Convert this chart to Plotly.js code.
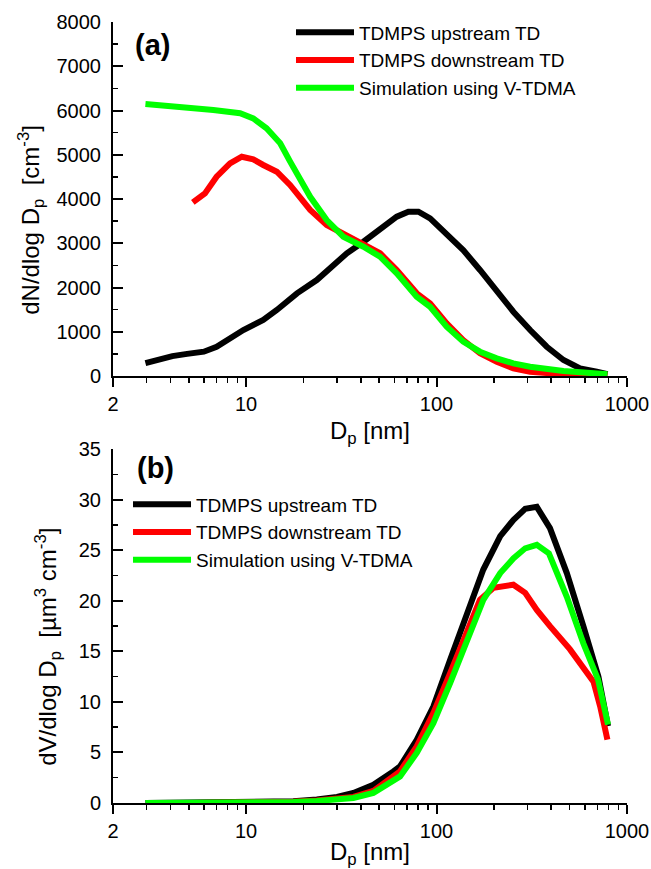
<!DOCTYPE html>
<html>
<head>
<meta charset="utf-8">
<script src="https://cdn.plot.ly/plotly-3.0.1.min.js"></script>
<style>html,body{margin:0;padding:0;background:#fff;}#chart{width:651px;height:869px;}</style>
</head>
<body>
<div id="chart"></div>
<script>
// ---- Data ----
const seriesNames = ["TDMPS upstream TD", "TDMPS downstream TD", "Simulation using V-TDMA"];
const seriesColors = ["#000000", "#ff0000", "#00ff00"];

// Panel (a): number size distribution dN/dlogDp [cm^-3]
const dpUpN = [2.96, 4.1, 4.9, 6.0, 7.0, 8.23, 9.67, 12.3, 14.5, 18.5, 23.5, 27.6, 33.8, 41.3, 50.5, 61.8, 71.1, 80.3, 92.5, 113, 138, 169, 207, 253, 310, 379, 464, 567, 694, 790];
const nUp   = [290, 450, 500, 550, 660, 852, 1040, 1266, 1492, 1869, 2170, 2434, 2773, 3035, 3300, 3600, 3713, 3713, 3564, 3225, 2848, 2396, 1905, 1453, 1040, 662, 362, 174, 97, 40];

const dpDownN = [5.25, 6.08, 7.0, 8.23, 9.49, 10.9, 12.3, 14.5, 17.0, 21.7, 26.5, 32.4, 41.3, 50.5, 61.8, 78.7, 92.5, 113, 138, 169, 207, 253, 310, 464, 790];
const nDown   = [3925, 4128, 4505, 4807, 4956, 4897, 4769, 4617, 4317, 3752, 3413, 3225, 2999, 2773, 2396, 1869, 1643, 1191, 814, 513, 323, 174, 97, 38, 15];

const dpSimN = [2.96, 4.87, 6.73, 9.3, 10.9, 12.8, 15.1, 17.0, 21.7, 26.5, 32.4, 41.3, 50.5, 61.8, 78.7, 92.5, 113, 138, 169, 207, 253, 310, 464, 790];
const nSim   = [6147, 6072, 6011, 5937, 5823, 5597, 5259, 4850, 4050, 3526, 3148, 2922, 2696, 2321, 1792, 1566, 1114, 776, 550, 400, 287, 210, 113, 40];

// Panel (b): volume size distribution dV/dlogDp [um^3 cm^-3]
const dpUpV = [2.96, 5, 8.5, 12.3, 17.7, 23.5, 30, 36.6, 46.6, 59.3, 64.3, 78.7, 96.2, 118, 144, 176, 216, 253, 292, 336, 394, 483, 590, 708, 795];
const vUp   = [0.0, 0.01, 0.03, 0.08, 0.18, 0.35, 0.6, 0.99, 1.8, 3.13, 3.62, 6.26, 9.55, 14.2, 18.5, 23.1, 26.4, 28.0, 29.1, 29.3, 27.2, 22.75, 17.5, 12.5, 7.6];

const dpDownV = [5.25, 8.5, 12.3, 17.7, 23.5, 30, 36.6, 46.6, 64.3, 78.7, 96.2, 118, 144, 169, 199, 253, 292, 336, 394, 502, 667, 723, 789];
const vDown   = [0.01, 0.02, 0.05, 0.12, 0.25, 0.4, 0.6, 1.2, 3.13, 5.6, 8.9, 12.86, 16.8, 20.1, 21.3, 21.6, 20.8, 19.1, 17.5, 15.2, 12.0, 9.55, 6.26];

const dpSimV = [2.96, 5, 8.5, 12.3, 17.7, 23.5, 30, 36.6, 46.6, 64.3, 78.7, 96.2, 118, 144, 176, 216, 253, 292, 336, 389, 483, 590, 705, 795];
const vSim   = [0.0, 0.01, 0.02, 0.05, 0.1, 0.2, 0.35, 0.5, 1.0, 2.63, 4.95, 7.9, 11.9, 15.8, 20.1, 22.75, 24.2, 25.2, 25.55, 24.7, 20.4, 15.8, 12.2, 7.75];

const xTickVals = [2, 10, 100, 1000];
const xTickText = ["2", "10", "100", "1000"];
const xMinorVals = [3,4,5,6,7,8,9,20,30,40,50,60,70,80,90,200,300,400,500,600,700,800,900];
const yTitleA = "dN/dlog D<sub>p</sub>  [cm<sup>-3</sup>]";
const yTitleB = "dV/dlog D<sub>p</sub>  [µm<sup>3</sup> cm<sup>-3</sup>]";
const xTitle = "D<sub>p</sub> [nm]";

// ---- Traces ----
const FONT = "Arial, 'Liberation Sans', sans-serif";
function tr(x, y, i, xa, ya, lg) {
  return {x: x, y: y, type: "scatter", mode: "lines", name: seriesNames[i],
    xaxis: xa, yaxis: ya, legend: lg,
    line: {color: seriesColors[i], width: 6}};
}
const data = [
  tr(dpUpN, nUp, 0, "x", "y", "legend"),
  tr(dpDownN, nDown, 1, "x", "y", "legend"),
  tr(dpSimN, nSim, 2, "x", "y", "legend"),
  tr(dpUpV, vUp, 0, "x2", "y2", "legend2"),
  tr(dpDownV, vDown, 1, "x2", "y2", "legend2"),
  tr(dpSimV, vSim, 2, "x2", "y2", "legend2")
];

const xBase = {
  type: "log", range: [Math.log10(2), 3], showline: true, linewidth: 2, linecolor: "#000",
  showgrid: false, zeroline: false, ticks: "outside", ticklen: 9, tickwidth: 2, tickcolor: "#000",
  tickvals: xTickVals, ticktext: xTickText, tickfont: {family: FONT, size: 20, color: "#000"},
  minor: {ticks: "outside", ticklen: 5, tickwidth: 1.5, tickcolor: "#000", tickvals: xMinorVals, showgrid: false},
  title: {text: xTitle, font: {family: FONT, size: 24, color: "#000"}, standoff: 8}
};
const yBase = {
  showline: true, linewidth: 2, linecolor: "#000", showgrid: false, zeroline: false,
  ticks: "inside", ticklen: 10, tickwidth: 2, tickcolor: "#000",
  tickfont: {family: FONT, size: 20, color: "#000"}, ticklabelstandoff: 6
};
const legBase = {xanchor: "left", yanchor: "top", bgcolor: "rgba(0,0,0,0)",
  font: {family: FONT, size: 19, color: "#000"}, itemwidth: 58, tracegroupgap: 0};

const layout = {
  width: 651, height: 869,
  margin: {l: 113, r: 24, t: 22, b: 66},
  paper_bgcolor: "#fff", plot_bgcolor: "#fff",
  font: {family: FONT, color: "#000"},
  xaxis: Object.assign({}, xBase, {anchor: "y", domain: [0, 1]}),
  xaxis2: Object.assign({}, xBase, {anchor: "y2", domain: [0, 1]}),
  yaxis: Object.assign({}, yBase, {domain: [0.5467, 1], range: [0, 8000], dtick: 1000,
    minor: {ticks: "inside", ticklen: 5, tickwidth: 1.5, tickcolor: "#000", dtick: 500, showgrid: false}}),
  yaxis2: Object.assign({}, yBase, {domain: [0, 0.4529], range: [0, 35], dtick: 5,
    minor: {ticks: "inside", ticklen: 5, tickwidth: 1.5, tickcolor: "#000", dtick: 2.5, showgrid: false}}),
  legend: Object.assign({}, legBase, {x: 0.3463, y: 1.0109}),
  legend2: Object.assign({}, legBase, {x: 0.0292, y: 0.4065}),
  showlegend: true,
  annotations: [
    {text: yTitleA, xref: "paper", yref: "paper", x: -0.161, y: 0.7471, xanchor: "center", yanchor: "middle",
      textangle: -90, showarrow: false, font: {family: FONT, size: 24, color: "#000"}},
    {text: yTitleB, xref: "paper", yref: "paper", x: -0.127, y: 0.1997, xanchor: "center", yanchor: "middle",
      textangle: -90, showarrow: false, font: {family: FONT, size: 24, color: "#000"}},
    {text: "<b>(a)</b>", xref: "paper", yref: "paper", x: 0.0389, y: 0.970, xanchor: "left", yanchor: "middle",
      showarrow: false, font: {family: FONT, size: 29, color: "#000"}},
    {text: "<b>(b)</b>", xref: "paper", yref: "paper", x: 0.0428, y: 0.4289, xanchor: "left", yanchor: "middle",
      showarrow: false, font: {family: FONT, size: 29, color: "#000"}}
  ]
};

Plotly.newPlot("chart", data, layout, {displayModeBar: false, staticPlot: true});
</script>
</body>
</html>
